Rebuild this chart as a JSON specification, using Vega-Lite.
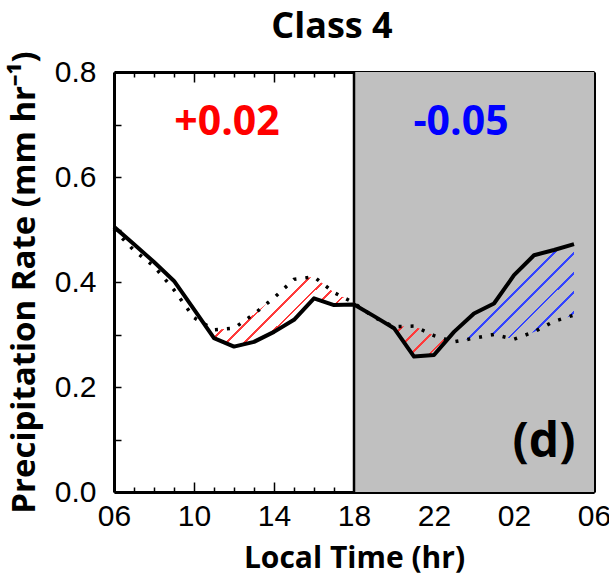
{
  "$schema": "https://vega.github.io/schema/vega-lite/v6.json",
  "width": 480,
  "height": 420,
  "autosize": {"type": "none"},
  "padding": {"left": 114, "top": 72, "right": 15, "bottom": 83},
  "background": "white",
  "title": {
    "text": "Class 4",
    "font": "Open Sans",
    "fontSize": 36,
    "fontWeight": "bold",
    "color": "black",
    "anchor": "middle",
    "dx": -22,
    "dy": 23,
    "offset": 0,
    "baseline": "alphabetic"
  },
  "config": {
    "view": {"stroke": null},
    "axis": {
      "grid": false,
      "domainColor": "black",
      "domainWidth": 3,
      "tickColor": "black",
      "tickWidth": 1.5,
      "labelFont": "Liberation Sans",
      "labelFontSize": 30,
      "labelColor": "black",
      "labelOverlap": false,
      "labelFlush": false,
      "labelBound": false,
      "titleFont": "Open Sans",
      "titleFontWeight": "bold",
      "titleFontSize": 30,
      "titleColor": "black",
      "zindex": 1
    }
  },
  "datasets": {
    "diurnal": [
      {"hour": 6, "solid": 0.505, "dotted": 0.5},
      {"hour": 7, "solid": 0.472, "dotted": 0.46},
      {"hour": 8, "solid": 0.438, "dotted": 0.43},
      {"hour": 9, "solid": 0.402, "dotted": 0.385},
      {"hour": 10, "solid": 0.348, "dotted": 0.332},
      {"hour": 11, "solid": 0.293, "dotted": 0.309},
      {"hour": 12, "solid": 0.277, "dotted": 0.312},
      {"hour": 13, "solid": 0.286, "dotted": 0.339},
      {"hour": 14, "solid": 0.305, "dotted": 0.37},
      {"hour": 15, "solid": 0.328, "dotted": 0.405},
      {"hour": 16, "solid": 0.369, "dotted": 0.41},
      {"hour": 17, "solid": 0.356, "dotted": 0.38},
      {"hour": 18, "solid": 0.357, "dotted": 0.36},
      {"hour": 19, "solid": 0.335, "dotted": 0.333},
      {"hour": 20, "solid": 0.312, "dotted": 0.315},
      {"hour": 21, "solid": 0.258, "dotted": 0.316},
      {"hour": 22, "solid": 0.261, "dotted": 0.298},
      {"hour": 23, "solid": 0.305, "dotted": 0.286},
      {"hour": 24, "solid": 0.34, "dotted": 0.293},
      {"hour": 25, "solid": 0.359, "dotted": 0.3},
      {"hour": 26, "solid": 0.413, "dotted": 0.291},
      {"hour": 27, "solid": 0.451, "dotted": 0.305},
      {"hour": 28, "solid": 0.461, "dotted": 0.325},
      {"hour": 29, "solid": 0.472, "dotted": 0.337}
    ],
    "night": [{"start": 18, "end": 30}]
  },
  "layer": [
    {
      "data": {"name": "night"},
      "mark": {"type": "rect", "fill": "#c0c0c0"},
      "encoding": {
        "x": {"field": "start", "type": "quantitative", "scale": {"domain": [6, 30], "nice": false, "zero": false}, "axis": null},
        "x2": {"field": "end"}
      }
    },
    {
      "data": {"name": "night"},
      "mark": {"type": "rule", "color": "black", "strokeWidth": 2.5},
      "encoding": {
        "x": {"field": "start", "type": "quantitative", "axis": null}
      }
    },
    {
      "data": {"name": "diurnal"},
      "transform": [{"filter": "datum.hour >= 11 && datum.hour <= 18"}],
      "mark": {
        "type": "area",
        "fill": {
          "gradient": "linear", "x1": 0, "y1": 0, "x2": 1.2, "y2": 0.603,
          "stops": [
            {"offset": 0, "color": "rgba(255,59,59,0)"},
            {"offset": 0.0352, "color": "rgba(255,59,59,0)"}, {"offset": 0.0352, "color": "#ff3b3b"}, {"offset": 0.0482, "color": "#ff3b3b"}, {"offset": 0.0482, "color": "rgba(255,59,59,0)"},
            {"offset": 0.1185, "color": "rgba(255,59,59,0)"}, {"offset": 0.1185, "color": "#ff3b3b"}, {"offset": 0.1315, "color": "#ff3b3b"}, {"offset": 0.1315, "color": "rgba(255,59,59,0)"},
            {"offset": 0.2018, "color": "rgba(255,59,59,0)"}, {"offset": 0.2018, "color": "#ff3b3b"}, {"offset": 0.2148, "color": "#ff3b3b"}, {"offset": 0.2148, "color": "rgba(255,59,59,0)"},
            {"offset": 0.2852, "color": "rgba(255,59,59,0)"}, {"offset": 0.2852, "color": "#ff3b3b"}, {"offset": 0.2982, "color": "#ff3b3b"}, {"offset": 0.2982, "color": "rgba(255,59,59,0)"},
            {"offset": 0.3685, "color": "rgba(255,59,59,0)"}, {"offset": 0.3685, "color": "#ff3b3b"}, {"offset": 0.3815, "color": "#ff3b3b"}, {"offset": 0.3815, "color": "rgba(255,59,59,0)"},
            {"offset": 0.4518, "color": "rgba(255,59,59,0)"}, {"offset": 0.4518, "color": "#ff3b3b"}, {"offset": 0.4648, "color": "#ff3b3b"}, {"offset": 0.4648, "color": "rgba(255,59,59,0)"},
            {"offset": 0.5352, "color": "rgba(255,59,59,0)"}, {"offset": 0.5352, "color": "#ff3b3b"}, {"offset": 0.5482, "color": "#ff3b3b"}, {"offset": 0.5482, "color": "rgba(255,59,59,0)"},
            {"offset": 0.6185, "color": "rgba(255,59,59,0)"}, {"offset": 0.6185, "color": "#ff3b3b"}, {"offset": 0.6315, "color": "#ff3b3b"}, {"offset": 0.6315, "color": "rgba(255,59,59,0)"},
            {"offset": 0.7018, "color": "rgba(255,59,59,0)"}, {"offset": 0.7018, "color": "#ff3b3b"}, {"offset": 0.7148, "color": "#ff3b3b"}, {"offset": 0.7148, "color": "rgba(255,59,59,0)"},
            {"offset": 0.7852, "color": "rgba(255,59,59,0)"}, {"offset": 0.7852, "color": "#ff3b3b"}, {"offset": 0.7982, "color": "#ff3b3b"}, {"offset": 0.7982, "color": "rgba(255,59,59,0)"},
            {"offset": 0.8685, "color": "rgba(255,59,59,0)"}, {"offset": 0.8685, "color": "#ff3b3b"}, {"offset": 0.8815, "color": "#ff3b3b"}, {"offset": 0.8815, "color": "rgba(255,59,59,0)"},
            {"offset": 0.9518, "color": "rgba(255,59,59,0)"}, {"offset": 0.9518, "color": "#ff3b3b"}, {"offset": 0.9648, "color": "#ff3b3b"}, {"offset": 0.9648, "color": "rgba(255,59,59,0)"},
            {"offset": 1, "color": "rgba(255,59,59,0)"}
          ]
        }
      },
      "encoding": {
        "x": {"field": "hour", "type": "quantitative", "axis": null},
        "y": {"field": "dotted", "type": "quantitative", "scale": {"domain": [0, 0.8], "nice": false}, "axis": null},
        "y2": {"field": "solid"}
      }
    },
    {
      "data": {"name": "diurnal"},
      "transform": [{"filter": "datum.hour >= 20 && datum.hour <= 23"}],
      "mark": {
        "type": "area",
        "fill": {
          "gradient": "linear", "x1": 0, "y1": 0, "x2": 1.199, "y2": 0.609,
          "stops": [
            {"offset": 0, "color": "rgba(255,59,59,0)"},
            {"offset": 0.085, "color": "rgba(255,59,59,0)"}, {"offset": 0.085, "color": "#ff3b3b"}, {"offset": 0.115, "color": "#ff3b3b"}, {"offset": 0.115, "color": "rgba(255,59,59,0)"},
            {"offset": 0.285, "color": "rgba(255,59,59,0)"}, {"offset": 0.285, "color": "#ff3b3b"}, {"offset": 0.315, "color": "#ff3b3b"}, {"offset": 0.315, "color": "rgba(255,59,59,0)"},
            {"offset": 0.485, "color": "rgba(255,59,59,0)"}, {"offset": 0.485, "color": "#ff3b3b"}, {"offset": 0.515, "color": "#ff3b3b"}, {"offset": 0.515, "color": "rgba(255,59,59,0)"},
            {"offset": 0.685, "color": "rgba(255,59,59,0)"}, {"offset": 0.685, "color": "#ff3b3b"}, {"offset": 0.715, "color": "#ff3b3b"}, {"offset": 0.715, "color": "rgba(255,59,59,0)"},
            {"offset": 0.885, "color": "rgba(255,59,59,0)"}, {"offset": 0.885, "color": "#ff3b3b"}, {"offset": 0.915, "color": "#ff3b3b"}, {"offset": 0.915, "color": "rgba(255,59,59,0)"},
            {"offset": 1, "color": "rgba(255,59,59,0)"}
          ]
        }
      },
      "encoding": {
        "x": {"field": "hour", "type": "quantitative", "axis": null},
        "y": {"field": "dotted", "type": "quantitative", "axis": null},
        "y2": {"field": "solid"}
      }
    },
    {
      "data": {"name": "diurnal"},
      "transform": [{"filter": "datum.hour >= 23 && datum.hour <= 29"}],
      "mark": {
        "type": "area",
        "fill": {
          "gradient": "linear", "x1": 0, "y1": 0, "x2": 1.091, "y2": 0.888,
          "stops": [
            {"offset": 0, "color": "rgba(51,68,255,0)"},
            {"offset": 0.039, "color": "rgba(51,68,255,0)"}, {"offset": 0.039, "color": "#3344ff"}, {"offset": 0.052, "color": "#3344ff"}, {"offset": 0.052, "color": "rgba(51,68,255,0)"},
            {"offset": 0.1299, "color": "rgba(51,68,255,0)"}, {"offset": 0.1299, "color": "#3344ff"}, {"offset": 0.1429, "color": "#3344ff"}, {"offset": 0.1429, "color": "rgba(51,68,255,0)"},
            {"offset": 0.2208, "color": "rgba(51,68,255,0)"}, {"offset": 0.2208, "color": "#3344ff"}, {"offset": 0.2338, "color": "#3344ff"}, {"offset": 0.2338, "color": "rgba(51,68,255,0)"},
            {"offset": 0.3117, "color": "rgba(51,68,255,0)"}, {"offset": 0.3117, "color": "#3344ff"}, {"offset": 0.3247, "color": "#3344ff"}, {"offset": 0.3247, "color": "rgba(51,68,255,0)"},
            {"offset": 0.4026, "color": "rgba(51,68,255,0)"}, {"offset": 0.4026, "color": "#3344ff"}, {"offset": 0.4156, "color": "#3344ff"}, {"offset": 0.4156, "color": "rgba(51,68,255,0)"},
            {"offset": 0.4935, "color": "rgba(51,68,255,0)"}, {"offset": 0.4935, "color": "#3344ff"}, {"offset": 0.5065, "color": "#3344ff"}, {"offset": 0.5065, "color": "rgba(51,68,255,0)"},
            {"offset": 0.5844, "color": "rgba(51,68,255,0)"}, {"offset": 0.5844, "color": "#3344ff"}, {"offset": 0.5974, "color": "#3344ff"}, {"offset": 0.5974, "color": "rgba(51,68,255,0)"},
            {"offset": 0.6753, "color": "rgba(51,68,255,0)"}, {"offset": 0.6753, "color": "#3344ff"}, {"offset": 0.6883, "color": "#3344ff"}, {"offset": 0.6883, "color": "rgba(51,68,255,0)"},
            {"offset": 0.7662, "color": "rgba(51,68,255,0)"}, {"offset": 0.7662, "color": "#3344ff"}, {"offset": 0.7792, "color": "#3344ff"}, {"offset": 0.7792, "color": "rgba(51,68,255,0)"},
            {"offset": 0.8571, "color": "rgba(51,68,255,0)"}, {"offset": 0.8571, "color": "#3344ff"}, {"offset": 0.8701, "color": "#3344ff"}, {"offset": 0.8701, "color": "rgba(51,68,255,0)"},
            {"offset": 0.948, "color": "rgba(51,68,255,0)"}, {"offset": 0.948, "color": "#3344ff"}, {"offset": 0.961, "color": "#3344ff"}, {"offset": 0.961, "color": "rgba(51,68,255,0)"},
            {"offset": 1, "color": "rgba(51,68,255,0)"}
          ]
        }
      },
      "encoding": {
        "x": {"field": "hour", "type": "quantitative", "axis": null},
        "y": {"field": "solid", "type": "quantitative", "axis": null},
        "y2": {"field": "dotted"}
      }
    },
    {
      "data": {"name": "diurnal"},
      "mark": {"type": "line", "color": "black", "strokeWidth": 3.5, "strokeDash": [3, 9], "strokeCap": "butt"},
      "encoding": {
        "x": {
          "field": "hour", "type": "quantitative",
          "axis": {
            "orient": "top",
            "values": [6, 7, 8, 9, 10, 11, 12, 13, 14, 15, 16, 17, 18, 19, 20, 21, 22, 23, 24, 25, 26, 27, 28, 29, 30],
            "labels": false,
            "title": null,
            "tickSize": {"condition": {"test": "datum.value % 4 === 2", "value": -10}, "value": -5}
          }
        },
        "y": {
          "field": "dotted", "type": "quantitative",
          "axis": {
            "orient": "right",
            "values": [0, 0.1, 0.2, 0.3, 0.4, 0.5, 0.6, 0.7, 0.8],
            "labels": false,
            "title": null,
            "tickSize": -7
          }
        }
      }
    },
    {
      "data": {"name": "diurnal"},
      "mark": {"type": "line", "color": "black", "strokeWidth": 4, "strokeJoin": "round"},
      "encoding": {
        "x": {
          "field": "hour", "type": "quantitative",
          "axis": {
            "orient": "bottom",
            "values": [6, 7, 8, 9, 10, 11, 12, 13, 14, 15, 16, 17, 18, 19, 20, 21, 22, 23, 24, 25, 26, 27, 28, 29, 30],
            "labelExpr": "datum.value % 4 === 2 ? ((datum.value % 24) < 10 ? '0' : '') + (datum.value % 24) : ''",
            "tickSize": {"condition": {"test": "datum.value % 4 === 2", "value": -10}, "value": -5},
            "labelPadding": 19,
            "title": "Local Time (hr)",
            "titlePadding": 7
          }
        },
        "y": {
          "field": "solid", "type": "quantitative",
          "axis": {
            "orient": "left",
            "values": [0, 0.1, 0.2, 0.3, 0.4, 0.5, 0.6, 0.7, 0.8],
            "labelExpr": "round(datum.value * 10) % 2 === 0 ? format(datum.value, '.1f') : ''",
            "tickSize": -7,
            "labelPadding": 25,
            "title": "Precipitation Rate (mm hr⁻¹)",
            "titleFontSize": 33,
            "titlePadding": 13
          }
        }
      }
    },
    {
      "data": {"values": [{"label": "+0.02"}]},
      "mark": {"type": "text", "font": "Open Sans", "fontWeight": "bold", "fontSize": 41, "color": "#ff0000", "align": "center", "baseline": "alphabetic"},
      "encoding": {
        "text": {"field": "label"},
        "x": {"datum": 11.65, "type": "quantitative", "axis": null},
        "y": {"datum": 0.68, "type": "quantitative", "axis": null}
      }
    },
    {
      "data": {"values": [{"label": "-0.05"}]},
      "mark": {"type": "text", "font": "Open Sans", "fontWeight": "bold", "fontSize": 41, "color": "#0000ff", "align": "center", "baseline": "alphabetic"},
      "encoding": {
        "text": {"field": "label"},
        "x": {"datum": 23.35, "type": "quantitative", "axis": null},
        "y": {"datum": 0.68, "type": "quantitative", "axis": null}
      }
    },
    {
      "data": {"values": [{"label": "(d)"}]},
      "mark": {"type": "text", "font": "Open Sans", "fontWeight": "bold", "fontSize": 48, "color": "black", "align": "center", "baseline": "alphabetic"},
      "encoding": {
        "text": {"field": "label"},
        "x": {"datum": 27.5, "type": "quantitative", "axis": null},
        "y": {"datum": 0.067, "type": "quantitative", "axis": null}
      }
    }
  ],
  "resolve": {"axis": {"x": "independent", "y": "independent"}}
}
